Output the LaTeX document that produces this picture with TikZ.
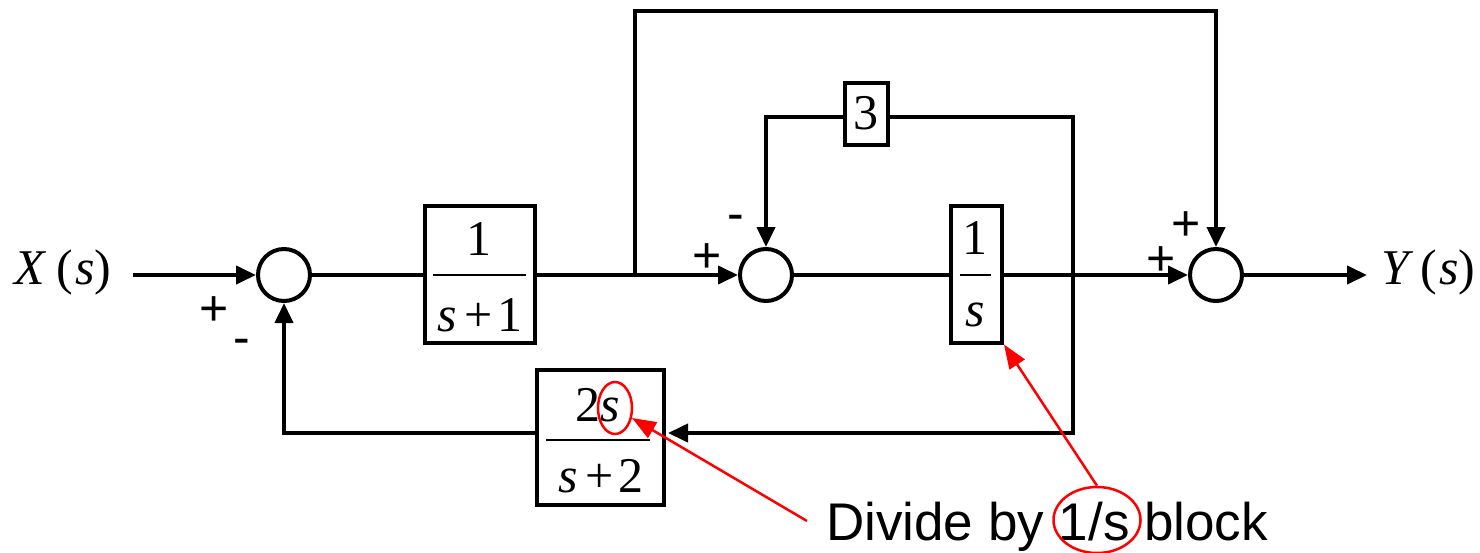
\documentclass[tikz,border=0pt]{standalone}
\usepackage{fontspec}
\setmainfont{Liberation Serif}
\newfontfamily\arialf{Liberation Sans}
\usetikzlibrary{arrows.meta,shapes.geometric}
\begin{document}
\begin{tikzpicture}[x=1pt,y=-1pt,
  wire/.style={line width=4pt},
  arr/.style={wire,-{Triangle[length=20pt,width=18pt]}},
  sumc/.style={circle,draw,line width=4pt,minimum size=52pt,inner sep=0pt},
  blk/.style={draw,line width=4pt,inner sep=0pt,rectangle},
  mt/.style={font=\fontsize{50}{60}\selectfont,inner sep=0pt},
  sg/.style={font=\arialf\fontsize{50}{60}\selectfont,inner sep=0pt},
  redarr/.style={draw=red,line width=2.5pt,-{Triangle[length=24pt,width=18pt]}},
  redell/.style={draw=red,line width=2.5pt,ellipse,inner sep=0pt}]
\useasboundingbox (0,0) rectangle (1480,552);

% input / output labels
\node[mt] (X) at (63,272) {{\itshape X}\hspace{0.22em}(\hspace{0.05em}{\itshape s})};
\node[mt,anchor=west] (Y) at (1381,272) {{\itshape Y}\hspace{0.22em}(\hspace{0.05em}{\itshape s})};

% summing junctions
\node[sumc] (S1) at (284,275) {};
\node[sumc] (S2) at (766,275) {};
\node[sumc] (S3) at (1216,275) {};

% blocks
\node[blk,minimum width=110pt,minimum height=137pt] (G1) at (480,274) {};
\node[mt] (G1n) at (479,239) {1};
\node[mt] (G1d) at (480,315) {{\itshape s}\hspace{0.16em}+\hspace{0.1em}1};
\draw[line width=2pt] (433,275) -- (526,275);

\node[blk,minimum width=51pt,minimum height=137pt] (G2) at (976.5,274) {};
\node[mt] (G2n) at (975,238) {1};
\node[mt] (G2d) at (975,315) {\itshape s};
\draw[line width=2pt] (960,275) -- (991,275);

\node[blk,minimum width=43pt,minimum height=62pt] (G3) at (866.5,114) {};
\node[mt] (G3t) at (866,113) {3};

\node[blk,minimum width=127pt,minimum height=135pt] (G4) at (600.5,437.5) {};
\node[mt] (G4n) at (598,405) {2{\itshape s}};
\node[mt] (G4d) at (601,476) {{\itshape s}\hspace{0.16em}+\hspace{0.1em}2};
\draw[line width=2pt] (546,440) -- (650,440);

% coordinates
\coordinate (xin) at (133,275);
\coordinate (yout) at (1367,275);
\coordinate (J) at (635,275);
\coordinate (K) at (1073,275);
\coordinate (top) at (0,11);
\coordinate (mid) at (0,117);
\coordinate (fb) at (0,433);

% signal flow
\draw[arr] (xin) -- (S1.west);
\draw[wire] (S1.east) -- (G1.west |- S1.east);
\draw[arr] (G1.east |- S2.west) -- (S2.west);
\draw[wire] (S2.east) -- (G2.west |- S2.east);
\draw[arr] (G2.east |- S3.west) -- (S3.west);
\draw[arr] (S3.east) -- (yout);

% feed-forward over the top
\draw[arr] (J) -- (J |- top) -| (S3.north);

% inner feedback through 3
\draw[wire] (K) -- (K |- mid) -- (G3.east |- mid);
\draw[arr] (G3.west |- mid) -| (S2.north);

% outer feedback through 2s/(s+2)
\draw[arr] (K) -- (K |- fb) -- ([xshift=2pt]G4.east |- fb);
\draw[arr] (G4.west |- fb) -| (S1.south);

% signs
\node[sg] (p1) at (214,311) {+};
\node[sg] (m1) at (242,347) {-};
\node[sg] (p2) at (707,258) {+};
\node[sg] (m2) at (736,223) {-};
\node[sg] (p3) at (1186,226) {+};
\node[sg] (p4) at (1161,261) {+};

% annotation
\node[font=\arialf\fontsize{53}{60}\selectfont,inner sep=0pt,anchor=base west] (note) at (826,540) {Divide by 1/s block};
\node[redell,minimum width=87pt,minimum height=66pt] (E2) at (1097,520) {};
\node[redell,minimum width=34pt,minimum height=52pt] (E1) at (615,408) {};
\draw[redarr] (E2.north) -- (G2.south east);
\draw[redarr] (807,521) -- (E1);
\end{tikzpicture}
\end{document}
